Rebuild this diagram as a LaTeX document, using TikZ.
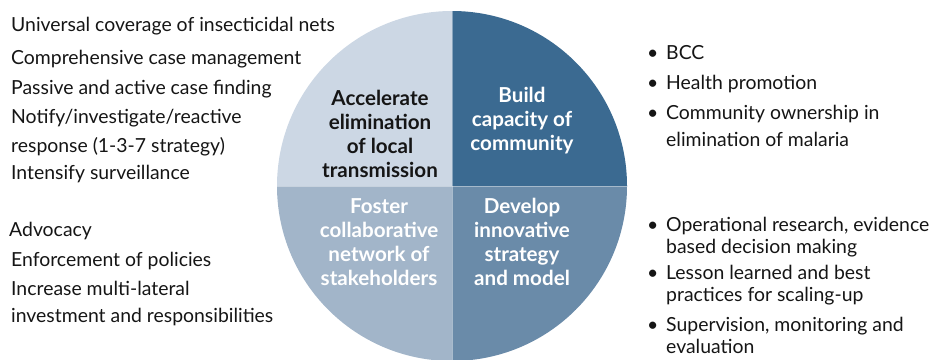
\documentclass[tikz,border=0pt]{standalone}
\usepackage{fontspec}
\setmainfont{Lato}
\definecolor{qtl}{HTML}{CCD7E4}
\definecolor{qtr}{HTML}{3B6A91}
\definecolor{qbl}{HTML}{A2B5C9}
\definecolor{qbr}{HTML}{6A8BA9}
\definecolor{ink}{HTML}{151515}

\begin{document}
\begin{tikzpicture}[x=1pt,y=1pt,
	txt/.style={anchor=base west,inner sep=0pt,font=\fontsize{19.4}{29}\selectfont,text=ink},
	lbl/.style={align=center,inner sep=0pt,font=\fontsize{20.6}{24}\selectfont\bfseries}]
	\useasboundingbox (0,0) rectangle (944,-359);

	% four quarters of the disc
	\coordinate (c) at (452,-186);
	\foreach \a/\col in {180/qtl,90/qtr,0/qbr,-90/qbl} { \fill[\col] (c) -- ++(\a:175) arc (\a:\a-90:175) -- cycle;}
	\draw[white,opacity=.4,line width=.8pt] (c) ++(0,175) -- ++(0,-350);
	\draw[white,opacity=.4,line width=.8pt] (c) ++(-175,0) -- ++(350,0);

	\node[lbl,text=ink] (accel) at (380,-134) {Accelerate\\elimination\\of local\\transmission};
	\node[lbl,text=white] (build) at (522,-121) {Build\\capacity of\\community};
	\node[lbl,text=white] (foster) at (379,-242) {Foster\\collaborative\\network of\\stakeholders};
	\node[lbl,text=white] (develop) at (522,-242) {Develop\\innovative\\strategy\\and model};

	% left lists
	\foreach \t/\y [count=\i] in {Universal coverage of insecticidal nets/31,Comprehensive case management/64,Passive and active case finding/94,{Notify/investigate/reactive}/123,response (1-3-7 strategy)/152,Intensify surveillance/179} { \node[txt] (lt\i) at (11,-\y) {\t};}
	\node[txt] (lb1) at (9,-236) {Advocacy};
	\foreach \t/\y [count=\i from 2] in {Enforcement of policies/266,Increase multi-lateral/295,investment and responsibilities/322} { \node[txt] (lb\i) at (11,-\y) {\t};}

	% right lists, bullets sit 19pt left of the text
	\foreach \t/\y [count=\i] in {BCC/59,Health promotion/89,Community ownership in/119} { \node[txt] (rt\i) at (647,-\y) {\makebox[19pt][l]{\textbullet}\t};}
	\node[txt] (rt4) at (666,-146) {elimination of malaria};
	\foreach \t/\y [count=\i] in {{Operational research, evidence}/231,Lesson learned and best/279,{Supervision, monitoring and}/331} { \node[txt] (rb\i) at (647,-\y) {\makebox[19pt][l]{\textbullet}\t};}
	\foreach \t/\y [count=\i from 4] in {based decision making/253,practices for scaling-up/301,evaluation/353} { \node[txt] (rb\i) at (666,-\y) {\t};}
\end{tikzpicture}
\end{document}
